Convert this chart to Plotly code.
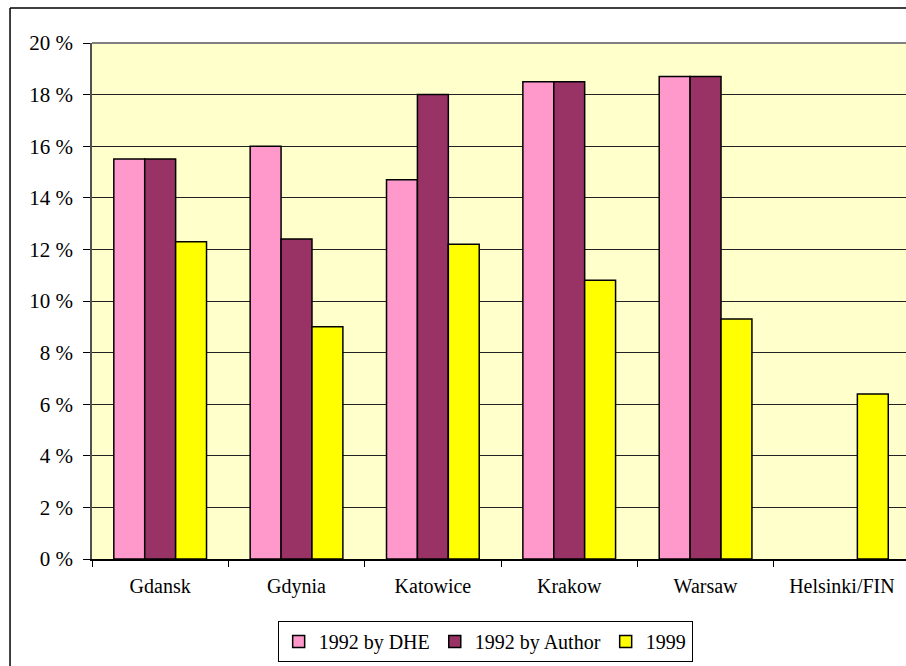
import plotly.graph_objects as go

# Share of ... by city, comparing 1992 estimates with 1999
cities = ["Gdansk", "Gdynia", "Katowice", "Krakow", "Warsaw", "Helsinki/FIN"]
dhe_1992 = [15.5, 16.0, 14.7, 18.5, 18.7, None]
author_1992 = [15.5, 12.4, 18.0, 18.5, 18.7, None]
y_1999 = [12.3, 9.0, 12.2, 10.8, 9.3, 6.4]

y_tick_vals = [0, 2, 4, 6, 8, 10, 12, 14, 16, 18, 20]
y_tick_text = ["0 %", "2 %", "4 %", "6 %", "8 %", "10 %", "12 %", "14 %",
               "16 %", "18 %", "20 %"]

series = [
    ("1992 by DHE", dhe_1992, "#FF99CC"),
    ("1992 by Author", author_1992, "#993366"),
    ("1999", y_1999, "#FFFF00"),
]

FONT = "Times New Roman, Liberation Serif, DejaVu Serif, serif"

fig = go.Figure()
for name, vals, color in series:
    fig.add_trace(go.Bar(
        name=name, x=cities, y=vals,
        marker=dict(color=color, line=dict(color="black", width=1.5)),
    ))

fig.update_layout(
    width=906, height=666,
    margin=dict(l=92, r=0, t=43, b=107),
    paper_bgcolor="white",
    plot_bgcolor="#FFFFCC",
    barmode="group",
    bargap=0.32,
    bargroupgap=0,
    font=dict(family=FONT, size=20, color="black"),
    showlegend=True,
    legend=dict(
        orientation="h",
        x=0.483, xanchor="center",
        y=-0.12, yanchor="top",
        bgcolor="white",
        bordercolor="black", borderwidth=1,
        font=dict(family=FONT, size=20, color="black"),
        traceorder="normal",
    ),
)

fig.update_xaxes(
    type="category",
    range=[-0.5, 5.47],
    showgrid=False,
    showline=True, linecolor="black", linewidth=1.5,
    ticks="outside", tickson="boundaries", ticklen=6, tickcolor="black",
    ticklabelstandoff=8,
    tickfont=dict(family=FONT, size=20, color="black"),
)

fig.update_yaxes(
    range=[0, 20],
    tickmode="array",
    tickvals=y_tick_vals,
    ticktext=y_tick_text,
    showgrid=True, gridcolor="#222222", gridwidth=1,
    zeroline=False,
    showline=True, linecolor="#505050", linewidth=1.5,
    ticks="outside", ticklen=7, tickcolor="black",
    ticklabelstandoff=6,
    tickfont=dict(family=FONT, size=21, color="black"),
)

# Plot-area top edge and outer chart frame
fig.add_shape(type="line", xref="paper", yref="paper",
              x0=0, x1=1, y0=1, y1=1,
              line=dict(color="#808080", width=2))
fig.add_shape(type="line", xref="paper", yref="paper",
              x0=-0.1007, x1=1.1, y0=1.0678, y1=1.0678,
              line=dict(color="black", width=1.5))
fig.add_shape(type="line", xref="paper", yref="paper",
              x0=-0.1007, x1=-0.1007, y0=1.0678, y1=-0.3,
              line=dict(color="black", width=1.5))

fig.write_html("out.html")
